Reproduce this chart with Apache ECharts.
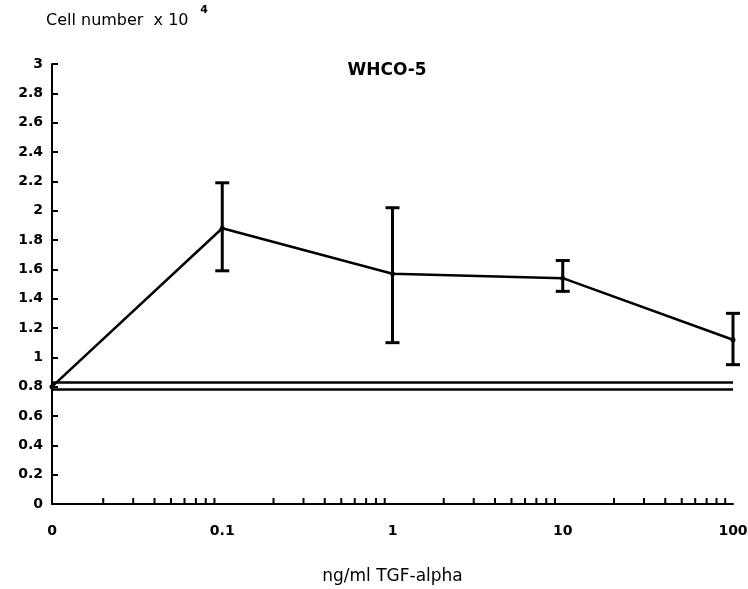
<!DOCTYPE html>
<html>
<head>
<meta charset="utf-8">
<script src="https://cdn.jsdelivr.net/npm/echarts@6/dist/echarts.min.js"></script>
<style>
  html, body { margin: 0; padding: 0; background: #fff; }
  #chart { width: 748px; height: 589px; }
</style>
</head>
<body>
<div id="chart"></div>
<script>
// doses in ng/ml, 0 is drawn one decade below 0.1
const doses = [0, 0.1, 1, 10, 100]
const cellMeans = [0.8, 1.88, 1.57, 1.54, 1.12]
const errLow = [null, 1.59, 1.10, 1.45, 0.95]
const errHigh = [null, 2.19, 2.02, 1.66, 1.30]
const controlBand = [0.78, 0.83]
const xTickLabels = ['0', '0.1', '1', '10', '100']
const zeroPos = 0.01

const xOf = d => (d === 0 ? zeroPos : d)

// minor ticks on the log axis, 2..9 in each decade
const minorTicks = []
;[0.01, 0.1, 1, 10].forEach(dec => {
  for (let k = 2; k <= 9; k++) minorTicks.push([dec * k, 0])
})

const lineData = doses.map((d, i) => [xOf(d), cellMeans[i]])
const errData = []
doses.forEach((d, i) => {
  if (errLow[i] != null) errData.push([xOf(d), errLow[i], errHigh[i]])
})

const wideFont = 'DejaVu Sans, sans-serif'
const labelFont = { fontFamily: wideFont, fontWeight: 'bold', fontSize: 14, color: '#000' }

const chart = echarts.init(document.getElementById('chart'))
const option = {
  backgroundColor: '#fff',
  animation: false,
  title: {
    text: 'WHCO-5',
    left: 382,
    top: 57,
    textAlign: 'center',
    textStyle: { fontFamily: wideFont, fontWeight: 'bold', fontSize: 17, color: '#000' }
  },
  graphic: [{
    type: 'text',
    left: 46,
    top: 5,
    style: {
      text: '{a|Cell number  x 10}{s| 4}',
      rich: {
        a: { fontFamily: wideFont, fontSize: 16, fill: '#000', verticalAlign: 'bottom', padding: [8, 0, 0, 0] },
        s: { fontFamily: wideFont, fontSize: 11, fontWeight: 'bold', fill: '#000', verticalAlign: 'top', padding: [0, 0, 10, 8] }
      }
    }
  }],
  grid: { left: 52, right: 15, top: 64, bottom: 85, outerBoundsMode: 'none' },
  xAxis: {
    type: 'log',
    logBase: 10,
    min: zeroPos,
    max: 100,
    name: 'ng/ml TGF-alpha',
    nameLocation: 'middle',
    nameGap: 64,
    nameTextStyle: { fontFamily: wideFont, fontSize: 17, color: '#000' },
    axisLine: { lineStyle: { color: '#000', width: 2 } },
    axisTick: { show: false },
    splitLine: { show: false },
    axisLabel: Object.assign({}, labelFont, {
      margin: 20,
      formatter: v => {
        const i = Math.round(Math.log10(v) + 2)
        return xTickLabels[i] != null ? xTickLabels[i] : ''
      }
    })
  },
  yAxis: {
    type: 'value',
    min: 0,
    max: 3,
    interval: 0.2,
    axisLine: { show: true, lineStyle: { color: '#000', width: 2 } },
    axisTick: { show: true, inside: true, length: 6, lineStyle: { color: '#000', width: 2 } },
    splitLine: { show: false },
    axisLabel: Object.assign({}, labelFont, { margin: 9 })
  },
  series: [
    {
      type: 'line',
      data: lineData,
      symbol: 'circle',
      symbolSize: 5,
      itemStyle: { color: '#000' },
      lineStyle: { color: '#000', width: 2.5 },
      markLine: {
        silent: true,
        symbol: 'none',
        label: { show: false },
        lineStyle: { color: '#000', width: 2.5, type: 'solid' },
        data: controlBand.map(v => ({ yAxis: v }))
      },
      z: 3
    },
    {
      type: 'custom',
      data: errData,
      renderItem: (params, api) => {
        const top = api.coord([api.value(0), api.value(2)])
        const bot = api.coord([api.value(0), api.value(1)])
        const cap = 7
        const st = { stroke: '#000', lineWidth: 3 }
        return {
          type: 'group',
          children: [
            { type: 'line', shape: { x1: top[0], y1: top[1], x2: bot[0], y2: bot[1] }, style: st },
            { type: 'line', shape: { x1: top[0] - cap, y1: top[1], x2: top[0] + cap, y2: top[1] }, style: st },
            { type: 'line', shape: { x1: bot[0] - cap, y1: bot[1], x2: bot[0] + cap, y2: bot[1] }, style: st }
          ]
        }
      },
      z: 4
    },
    {
      type: 'custom',
      data: minorTicks,
      silent: true,
      renderItem: (params, api) => {
        const p = api.coord([api.value(0), api.value(1)])
        return {
          type: 'line',
          shape: { x1: p[0], y1: p[1], x2: p[0], y2: p[1] - 6 },
          style: { stroke: '#000', lineWidth: 2 }
        }
      },
      z: 2
    }
  ]
}
chart.setOption(option)
</script>
</body>
</html>
